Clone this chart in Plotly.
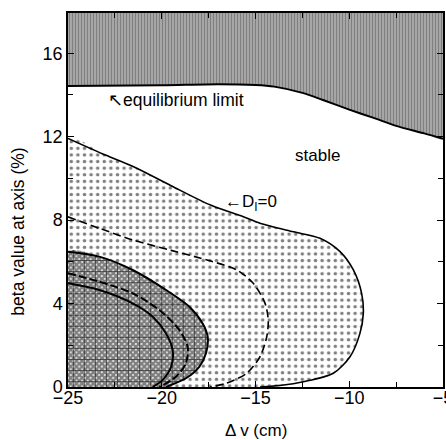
import plotly.graph_objects as go

# Equilibrium limit (lower boundary of the hatched region)
eq_x = [-25, -20, -17, -15, -14, -12.5, -11.4, -10, -8.7, -7.5, -6, -5]
eq_y = [14.43, 14.47, 14.52, 14.48, 14.4, 14.1, 13.76, 13.3, 12.9, 12.52, 12.16, 11.9]

# D_I = 0 curve (outer boundary of dotted region)
di_x = [-25, -23, -21.5, -19.5, -17.4, -15.65, -14.76, -12.98, -11.56, -10.49, -9.78, -9.34, -9.25, -9.43, -9.96, -10.85, -12.45, -13.6, -14.76]
di_y = [11.92, 11.12, 10.56, 9.65, 8.72, 8.16, 7.85, 7.44, 7.13, 6.49, 5.61, 4.49, 3.53, 2.57, 1.45, 0.66, 0.25, 0.08, 0.0]

# dashed curve in dotted region
d2_x = [-25, -23.3, -21.55, -19.5, -17.43, -16.0, -15.12, -14.49, -14.32, -14.4, -14.76, -15.47, -16.54, -17.43]
d2_y = [8.16, 7.6, 7.05, 6.55, 6.05, 5.61, 4.97, 4.01, 3.21, 2.41, 1.45, 0.66, 0.18, 0.0]

# outer boundary of dense region
c3_x = [-25, -23.33, -21.55, -19.77, -18.53, -17.82, -17.55, -17.64, -18.0, -18.71, -19.77]
c3_y = [6.49, 6.25, 5.61, 4.65, 3.85, 3.05, 2.41, 1.62, 0.97, 0.42, 0.0]

# dashed inner curve
c4_x = [-25, -23.33, -21.55, -20.13, -19.06, -18.62, -18.71, -19.24, -20.13]
c4_y = [5.45, 5.05, 4.49, 3.69, 2.73, 1.93, 1.14, 0.49, 0.0]

# solid innermost curve
c5_x = [-25, -23.33, -21.55, -20.48, -19.77, -19.42, -19.5, -19.95, -20.48]
c5_y = [4.97, 4.65, 4.01, 3.37, 2.57, 1.77, 0.97, 0.34, 0.0]

x_ticks = [-25, -20, -15, -10, -5]
y_ticks = [0, 4, 8, 12, 16]
X_RANGE = [-25, -5]
Y_RANGE = [0, 17.93]
Y_TOP = 19

FONT = "Liberation Sans, Arial, Helvetica, sans-serif"

fig = go.Figure()

# dotted region (stable below D_I=0)
fig.add_trace(go.Scatter(
    x=[-25] + di_x + [-20, -25], y=[0] + di_y + [0, 0],
    mode="lines", line=dict(width=0, shape="spline", smoothing=0.8),
    fill="toself", fillcolor="rgba(0,0,0,0)",
    fillpattern=dict(shape=".", size=6.6, solidity=0.22, fgcolor="black", bgcolor="white"),
    hoverinfo="skip", showlegend=False))

# dense cross-hatched region (checker + crosses)
dense_x = [-25] + c3_x + [-22, -25]
dense_y = [0] + c3_y + [0, 0]
fig.add_trace(go.Scatter(
    x=dense_x, y=dense_y,
    mode="lines", line=dict(width=0, shape="spline", smoothing=0.8),
    fill="toself", fillcolor="rgba(0,0,0,0)",
    fillpattern=dict(shape="x", size=4, solidity=0.85, fgcolor="black", bgcolor="white"),
    hoverinfo="skip", showlegend=False))
fig.add_trace(go.Scatter(
    x=dense_x, y=dense_y,
    mode="lines", line=dict(width=0, shape="spline", smoothing=0.8),
    fill="toself", fillcolor="rgba(0,0,0,0)",
    fillpattern=dict(shape="+", size=11, solidity=0.15, fgcolor="black", bgcolor="rgba(0,0,0,0)"),
    hoverinfo="skip", showlegend=False))

# hatched region above equilibrium limit
fig.add_trace(go.Scatter(
    x=eq_x + [-5, -25], y=eq_y + [Y_TOP, Y_TOP],
    mode="lines", line=dict(width=0, shape="spline", smoothing=0.8),
    fill="toself", fillcolor="rgba(0,0,0,0)",
    fillpattern=dict(shape="|", size=3, solidity=0.8, fgcolor="black", bgcolor="white"),
    hoverinfo="skip", showlegend=False))

def curve(x, y, dash="solid", w=1.6):
    fig.add_trace(go.Scatter(x=x, y=y, mode="lines",
                             line=dict(color="black", width=w, dash=dash, shape="spline", smoothing=0.8),
                             hoverinfo="skip", showlegend=False))

curve(eq_x, eq_y, w=2)
curve(di_x, di_y, w=1.6)
curve(d2_x, d2_y, dash="8px,4px", w=1.6)
curve(c3_x, c3_y, w=2)
curve(c4_x, c4_y, dash="8px,3px", w=2)
curve(c5_x, c5_y, w=2)

axis_common = dict(showline=True, linecolor="black", linewidth=1.5, mirror="allticks",
                   ticks="inside", ticklen=6, tickwidth=1, tickcolor="black",
                   showgrid=False, zeroline=False, automargin=False,
                   ticklabeloverflow="allow",
                   tickfont=dict(family=FONT, size=18, color="black"))

fig.update_xaxes(range=X_RANGE, tickvals=x_ticks, ticklabelstandoff=-6,
                 minor=dict(dtick=2.5, tick0=-25, ticks="inside", ticklen=5, tickcolor="black", showgrid=False),
                 **axis_common)
fig.update_yaxes(range=Y_RANGE, tickvals=y_ticks,
                 minor=dict(dtick=2, tick0=0, ticks="inside", ticklen=5, tickcolor="black", showgrid=False),
                 **axis_common)

ann_font = dict(family=FONT, size=17, color="black")
fig.add_annotation(x=-11.67, y=11.12, text="stable", showarrow=False, font=ann_font)
fig.add_annotation(x=-22.95, y=13.78, text="↖equilibrium limit", showarrow=False,
                   xanchor="left", yanchor="middle", font=dict(family=FONT, size=17.5, color="black"))
fig.add_annotation(x=-15.24, y=8.82, text="←D<sub>I</sub>=0", showarrow=False, font=ann_font)
fig.add_annotation(xref="paper", yref="paper", x=-0.132, y=0.414, text="beta value at axis (%)",
                   textangle=-90, showarrow=False, xanchor="center", yanchor="middle",
                   font=dict(family=FONT, size=17.5, color="black"))
fig.add_annotation(xref="paper", yref="paper", x=0.5, y=-0.115, text="Δ v (cm)",
                   showarrow=False, xanchor="center", yanchor="middle", font=ann_font)

fig.update_layout(width=446, height=440, margin=dict(l=68, r=3, t=13, b=53),
                  paper_bgcolor="white", plot_bgcolor="white",
                  font=dict(family=FONT, color="black"))

# remove the default page margin so the 446x440 figure fills the window exactly
fig.write_html("out.html", config={"displayModeBar": False},
               post_script="document.body.style.margin='0';document.body.style.overflow='hidden';")
